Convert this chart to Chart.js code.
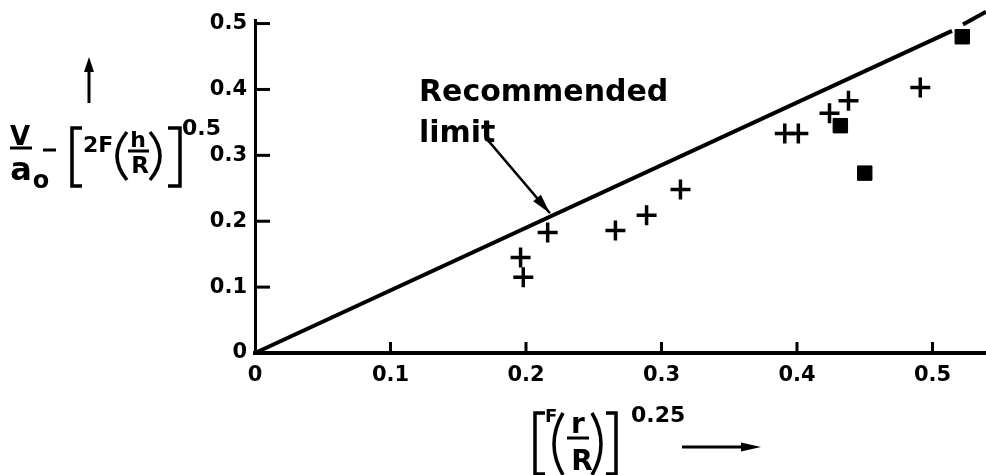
<!DOCTYPE html>
<html><head><meta charset="utf-8">
<script src="https://cdn.jsdelivr.net/npm/chart.js@4.4.1/dist/chart.umd.min.js"></script>
<style>html,body{margin:0;padding:0;background:#fff;} #wrap{width:986px;height:475px;position:relative;}</style>
</head><body><div id="wrap"><canvas id="c"></canvas></div>
<script>
// ---- data ----
const xTicks = [0, 0.1, 0.2, 0.3, 0.4, 0.5];
const yTicks = [0, 0.1, 0.2, 0.3, 0.4, 0.5];
const crossX = [0.196, 0.198, 0.216, 0.266, 0.289, 0.314, 0.391, 0.401, 0.424, 0.438, 0.491];
const crossY = [0.145, 0.115, 0.183, 0.186, 0.209, 0.248, 0.333, 0.333, 0.364, 0.383, 0.403];
const squareX = [0.432, 0.450, 0.522];
const squareY = [0.345, 0.273, 0.480];
const limitX = [0, 0.5144, 0.518, 0.5225, 0.5395];
const limitY = [0, 0.489, null, 0.4985, 0.518];
const xRange = [0, 0.5395];
const yRange = [0, 0.5045];
const annotationLines = ['Recommended', 'limit'];
const annotationX = [0.121, 0.121];
const annotationY = [0.382, 0.321];
const arrowFrom = [0.172, 0.3227];
const arrowTo = [0.2177, 0.2121];

const pts = (xs, ys) => xs.map((x, i) => ({x: x, y: ys[i]}));
const FONT = '"DejaVu Sans", "Liberation Sans", sans-serif';

function txt(ctx, s, x, y, size, align) {
  ctx.font = 'bold ' + size + 'px ' + FONT;
  ctx.textAlign = align || 'left';
  ctx.textBaseline = 'alphabetic';
  ctx.fillText(s, x, y);
}
function line(ctx, pts, w) {
  ctx.lineWidth = w;
  ctx.beginPath();
  ctx.moveTo(pts[0][0], pts[0][1]);
  for (let i = 1; i < pts.length; i++) ctx.lineTo(pts[i][0], pts[i][1]);
  ctx.stroke();
}
function paren(ctx, x0, y0, cx, y1, w) {
  ctx.lineWidth = w;
  ctx.beginPath();
  ctx.moveTo(x0, y0);
  ctx.quadraticCurveTo(cx, (y0 + y1) / 2, x0, y1);
  ctx.stroke();
}
function arrowHead(ctx, tx, ty, fx, fy, len, half) {
  const a = Math.atan2(ty - fy, tx - fx);
  const bx = tx - Math.cos(a) * len, by = ty - Math.sin(a) * len;
  ctx.beginPath();
  ctx.moveTo(tx, ty);
  ctx.lineTo(bx + Math.sin(a) * half, by - Math.cos(a) * half);
  ctx.lineTo(bx - Math.sin(a) * half, by + Math.cos(a) * half);
  ctx.closePath();
  ctx.fill();
}

const deco = {
  id: 'deco',
  afterDraw(chart) {
    const ctx = chart.ctx, xs = chart.scales.x, ys = chart.scales.y;
    const ca = chart.chartArea;
    ctx.save();
    ctx.strokeStyle = '#000';
    ctx.fillStyle = '#000';
    ctx.lineCap = 'butt';
    // inward tick marks
    yTicks.forEach(v => { if (v === 0) return; const p = ys.getPixelForValue(v); line(ctx, [[ca.left, p], [ca.left + 15, p]], 3); });
    xTicks.forEach(v => { if (v === 0) return; const p = xs.getPixelForValue(v); line(ctx, [[p, ca.bottom], [p, ca.bottom - 11]], 3); });

    // annotation
    annotationLines.forEach((s, i) => txt(ctx, s, xs.getPixelForValue(annotationX[i]), ys.getPixelForValue(annotationY[i]), 30));
    const fx = xs.getPixelForValue(arrowFrom[0]), fy = ys.getPixelForValue(arrowFrom[1]);
    const tx = xs.getPixelForValue(arrowTo[0]), ty = ys.getPixelForValue(arrowTo[1]);
    line(ctx, [[fx, fy], [tx, ty]], 2.5);
    arrowHead(ctx, tx, ty, fx, fy, 20, 5);

    // y axis title:  V/a_o - [2F(h/R)]^0.5  with upward arrow
    line(ctx, [[89, 103], [89, 70]], 3);
    arrowHead(ctx, 89, 57, 89, 103, 15, 5);
    txt(ctx, 'V', 20, 145, 26, 'center');
    line(ctx, [[10, 148], [32, 148]], 3);
    txt(ctx, 'a', 21, 180, 32, 'center');
    txt(ctx, 'o', 41, 188, 24, 'center');
    line(ctx, [[43, 150], [56, 150]], 3);
    line(ctx, [[82, 128], [72, 128], [72, 186], [82, 186]], 3.5);
    txt(ctx, '2F', 83, 152, 22);
    paren(ctx, 127, 132, 107, 180, 3.5);
    txt(ctx, 'h', 138, 147, 22, 'center');
    line(ctx, [[128, 151], [149, 151]], 3);
    txt(ctx, 'R', 140, 173, 23, 'center');
    paren(ctx, 150, 132, 170, 180, 3.5);
    line(ctx, [[168, 128], [180, 128], [180, 186], [168, 186]], 3.5);
    txt(ctx, '0.5', 182, 135, 22);

    // x axis title: [F(r/R)]^0.25  with rightward arrow
    line(ctx, [[545, 413], [535, 413], [535, 474], [545, 474]], 3.5);
    txt(ctx, 'F', 545, 422, 18);
    paren(ctx, 563, 413, 545, 475, 3.5);
    txt(ctx, 'r', 578, 433, 28, 'center');
    line(ctx, [[567, 438], [589, 438]], 3);
    txt(ctx, 'R', 582, 470, 28, 'center');
    paren(ctx, 592, 413, 610, 475, 3.5);
    line(ctx, [[606, 413], [616, 413], [616, 474], [606, 474]], 3.5);
    txt(ctx, '0.25', 631, 422, 22);
    line(ctx, [[682, 447], [745, 447]], 3);
    arrowHead(ctx, 761, 447, 682, 447, 20, 4.5);
    ctx.restore();
  }
};

const tickFont = {family: FONT, weight: 'bold', size: 21};
new Chart(document.getElementById('c'), {
  type: 'scatter',
  data: {
    datasets: [
      {data: pts(squareX, squareY), pointStyle: 'rect', pointRadius: 10.2, pointHoverRadius: 10.2,
       backgroundColor: '#000', borderColor: '#000', borderWidth: 1},
      {data: pts(crossX, crossY), pointStyle: 'cross', pointRadius: 10, pointHoverRadius: 10,
       borderColor: '#000', backgroundColor: '#000', borderWidth: 3.5},
      {type: 'line', data: pts(limitX, limitY), borderColor: '#000', borderWidth: 4, pointRadius: 0,
       fill: false, spanGaps: false, clip: false, tension: 0, showLine: true}
    ]
  },
  options: {
    responsive: true, maintainAspectRatio: false, animation: false, events: [],
    layout: {autoPadding: false, padding: {top: 20, right: 0, bottom: 0, left: 0}},
    plugins: {legend: {display: false}, tooltip: {enabled: false}},
    scales: {
      x: {
        type: 'linear', min: xRange[0], max: xRange[1],
        afterFit(s) { s.height = 122; },
        afterBuildTicks(s) { s.ticks = xTicks.map(v => ({value: v})); },
        grid: {display: false, drawTicks: false},
        border: {display: true, color: '#000', width: 4},
        ticks: {color: '#000', font: tickFont, padding: 10, maxRotation: 0, autoSkip: false,
                callback: v => v === 0 ? '0' : v.toFixed(1)}
      },
      y: {
        type: 'linear', min: yRange[0], max: yRange[1],
        afterFit(s) { s.width = 255; },
        afterBuildTicks(s) { s.ticks = yTicks.map(v => ({value: v})); },
        grid: {display: false, drawTicks: false},
        border: {display: true, color: '#000', width: 3},
        ticks: {color: '#000', font: tickFont, padding: 8, autoSkip: false,
                callback: v => v === 0 ? '0' : v.toFixed(1)}
      }
    }
  },
  plugins: [deco]
});
</script>
</body></html>
